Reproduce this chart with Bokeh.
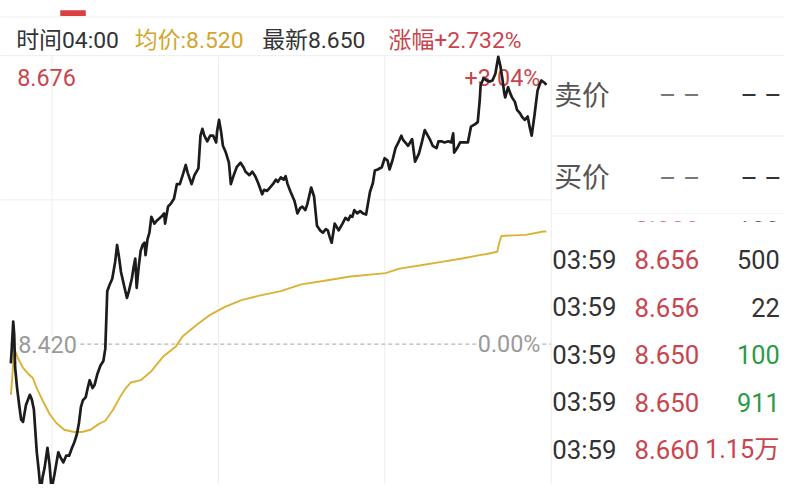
from bokeh.plotting import figure
from bokeh.models import Range1d
from bokeh.core.properties import value
from bokeh.embed import file_html
from bokeh.resources import INLINE

# ---------------- data ----------------
prev_close = 8.420
high_price = 8.676
session_minutes = 390          # 21:30 -> 04:00
grid_minutes = [30, 150, 270]  # 22:00, 00:00, 02:00
last_time = "04:00"
avg_last = 8.520
last_price = 8.650

minutes = [0.4, 1.1, 2.1, 2.8, 3.5, 4.9, 6.4, 7.8, 9.2, 11.3,
           14.1, 15.5, 17.0, 19.1, 20.5, 21.9, 23.3, 24.7, 26.8, 28.3,
           29.7, 31.8, 34.6, 36.0, 38.2, 40.3, 42.4, 44.5, 45.9, 48.0,
           49.5, 50.9, 52.3, 54.4, 55.8, 57.2, 59.3, 60.8, 62.9, 65.0,
           67.1, 68.5, 69.9, 71.4, 73.5, 75.6, 77.0, 78.4, 79.8, 82.0,
           84.1, 85.5, 87.6, 89.0, 90.1, 91.1, 92.6, 94.0, 95.4, 96.8,
           97.5, 98.9, 100.3, 101.7, 103.9, 106.0, 108.8, 110.9, 111.6, 113.7,
           115.9, 118.0, 120.1, 122.2, 124.3, 126.5, 127.9, 130.7, 132.8, 135.6,
           137.1, 138.5, 139.9, 142.0, 144.1, 146.3, 148.4, 149.1, 150.5, 151.9,
           153.3, 155.4, 157.6, 159.0, 161.1, 163.2, 166.0, 168.1, 169.6, 172.4,
           174.5, 176.6, 178.7, 181.6, 183.0, 185.1, 187.2, 189.3, 191.5, 192.9,
           195.0, 197.1, 198.5, 199.9, 202.1, 204.9, 207.0, 209.1, 210.5, 212.7,
           214.1, 216.9, 219.0, 221.1, 223.3, 225.4, 227.5, 228.9, 230.3, 231.7,
           233.9, 235.3, 236.7, 239.5, 241.6, 243.7, 245.2, 246.6, 248.0, 250.1,
           252.2, 254.3, 256.5, 257.9, 259.3, 261.4, 262.8, 264.9, 267.8, 269.9,
           272.0, 273.4, 275.5, 277.7, 279.8, 281.9, 283.3, 284.7, 286.8, 289.7,
           291.8, 294.6, 296.7, 298.8, 301.0, 302.4, 304.5, 307.3, 308.7, 310.9,
           313.0, 315.8, 317.9, 319.3, 320.0, 322.2, 324.3, 327.1, 329.9, 332.1,
           334.9, 337.0, 338.4, 339.1, 341.2, 343.4, 345.5, 347.6, 349.7, 351.8,
           353.3, 354.7, 356.1, 356.8, 358.9, 360.3, 361.7, 363.8, 365.3, 367.4,
           368.8, 370.9, 373.0, 374.4, 375.9, 378.0, 380.1, 381.5, 382.9, 385.1, 386.5]

prices = [8.403, 8.417, 8.440, 8.429, 8.399, 8.381, 8.366, 8.353, 8.351, 8.366,
          8.375, 8.371, 8.362, 8.324, 8.308, 8.289, 8.302, 8.310, 8.328, 8.313,
          8.291, 8.304, 8.324, 8.320, 8.315, 8.321, 8.321, 8.328, 8.332, 8.340,
          8.350, 8.364, 8.370, 8.373, 8.381, 8.388, 8.381, 8.384, 8.394, 8.401,
          8.405, 8.416, 8.467, 8.472, 8.478, 8.493, 8.508, 8.497, 8.484, 8.472,
          8.461, 8.467, 8.478, 8.489, 8.496, 8.470, 8.489, 8.503, 8.508, 8.510,
          8.499, 8.513, 8.519, 8.533, 8.527, 8.530, 8.533, 8.536, 8.527, 8.542,
          8.545, 8.549, 8.562, 8.562, 8.570, 8.579, 8.572, 8.562, 8.570, 8.576,
          8.605, 8.611, 8.605, 8.600, 8.605, 8.605, 8.599, 8.609, 8.619, 8.609,
          8.596, 8.590, 8.581, 8.562, 8.570, 8.577, 8.581, 8.577, 8.573, 8.570,
          8.573, 8.569, 8.563, 8.553, 8.557, 8.556, 8.559, 8.562, 8.566, 8.564,
          8.568, 8.566, 8.569, 8.562, 8.555, 8.547, 8.536, 8.541, 8.542, 8.539,
          8.544, 8.559, 8.551, 8.525, 8.521, 8.519, 8.522, 8.521, 8.515, 8.510,
          8.527, 8.524, 8.521, 8.527, 8.532, 8.530, 8.534, 8.533, 8.539, 8.536,
          8.538, 8.536, 8.535, 8.545, 8.555, 8.563, 8.574, 8.575, 8.577, 8.585,
          8.583, 8.575, 8.583, 8.594, 8.599, 8.605, 8.601, 8.599, 8.596, 8.602,
          8.582, 8.589, 8.599, 8.610, 8.605, 8.602, 8.596, 8.594, 8.600, 8.600,
          8.599, 8.600, 8.599, 8.607, 8.590, 8.594, 8.599, 8.599, 8.599, 8.613,
          8.615, 8.617, 8.636, 8.650, 8.656, 8.654, 8.653, 8.654, 8.660, 8.675,
          8.667, 8.656, 8.643, 8.639, 8.648, 8.643, 8.639, 8.635, 8.628, 8.625,
          8.622, 8.619, 8.622, 8.613, 8.605, 8.624, 8.645, 8.650, 8.654, 8.652, 8.650]

avg_minutes = [0.4, 1.4, 2.8, 3.9, 5.7, 9.2, 12.7, 16.2, 19.1, 23.3,
               28.3, 33.2, 38.9, 45.9, 51.6, 57.9, 63.6, 68.5, 74.2, 79.1,
               82.7, 86.9, 94.0, 101.7, 110.2, 119.4, 124.3, 134.2, 144.1, 154.7,
               166.7, 179.5, 195.0, 209.8, 225.4, 245.2, 270.6, 280.5, 296.0, 310.9,
               325.7, 338.4, 343.4, 351.1, 352.5, 354.0, 371.6, 384.3, 386.5]
avg_prices = [8.375, 8.390, 8.416, 8.413, 8.407, 8.399, 8.394, 8.390, 8.381, 8.370,
              8.358, 8.350, 8.344, 8.342, 8.342, 8.344, 8.349, 8.352, 8.362, 8.373,
              8.380, 8.386, 8.388, 8.396, 8.409, 8.418, 8.427, 8.437, 8.446, 8.453,
              8.459, 8.463, 8.467, 8.473, 8.476, 8.480, 8.483, 8.487, 8.490, 8.493,
              8.496, 8.499, 8.500, 8.502, 8.510, 8.516, 8.517, 8.520, 8.520]

trade_times = ["03:59", "03:59", "03:59", "03:59", "03:59", "03:59"]
trade_prices = [8.656, 8.656, 8.656, 8.650, 8.650, 8.660]
trade_vols = ["100", "500", "22", "100", "911", "1.15万"]
trade_side = [0, 0, 0, -1, -1, 1]

# ---------------- layout ----------------
W, H = 784, 484
SX, SY = W / 800, H / 500


def X(v):
    return v * SX


def Y(v):
    return v * SY


def FS(v):
    return f"{v * (SX + SY) / 2:.1f}px"


CH_LEFT, CH_RIGHT = X(10), X(562)
CH_TOP, CH_MID = Y(57), Y(355)

RED = "#c9454d"
GOLD = "#d2a62e"
GOLD_LINE = "#dab236"
DARK = "#333333"
GRAY = "#9a9a9a"
GREEN = "#2b9a45"
GRID = "#ededed"
FONT = value("Roboto, 'Noto Sans CJK SC'")

px_per_min = (CH_RIGHT - CH_LEFT) / session_minutes
span = high_price - prev_close
px_per_price = (CH_MID - CH_TOP) / span
x0 = -CH_LEFT / px_per_min
x1 = x0 + W / px_per_min
y1 = high_price + CH_TOP / px_per_price
y0 = y1 - H / px_per_price

p = figure(width=W, height=H, x_range=Range1d(x0, x1), y_range=Range1d(y0, y1),
           x_axis_type=None, y_axis_type=None, toolbar_location=None,
           output_backend="svg", min_border=0, outline_line_color=None,
           background_fill_color="white", border_fill_color="white")
p.extra_x_ranges = {"px": Range1d(0, W)}
p.extra_y_ranges = {"px": Range1d(H, 0)}


def txt(x, y, s, color, size, align="left", **kw):
    p.text(x=[X(x)], y=[Y(y)], text=[s], text_color=color, text_font=FONT,
           text_font_size=FS(size), text_align=align, text_baseline="middle",
           x_range_name="px", y_range_name="px", **kw)


def pxline(xa, ya, xb, yb, color=GRID, width=1):
    p.segment(x0=[X(xa)], y0=[Y(ya)], x1=[X(xb)], y1=[Y(yb)], line_color=color,
              line_width=width, x_range_name="px", y_range_name="px")


def pxbox(l, r, t, b, color):
    p.quad(left=[X(l)], right=[X(r)], top=[Y(t)], bottom=[Y(b)],
           fill_color=color, line_color=None, x_range_name="px", y_range_name="px")


# top strip
pxline(0, 17, 800, 17, "#eeeeee", 1)
pxbox(61, 87, 10, 16, "#d9403f")

# header
chg = (last_price - prev_close) / prev_close * 100
txt(16, 41, f"时间{last_time}", DARK, 23.5)
txt(137, 41, f"均价:{avg_last:.3f}", GOLD, 23.5)
txt(267, 41, f"最新{last_price:.3f}", DARK, 23.5)
txt(396, 41, f"涨幅{chg:+.3f}%", RED, 23.5)

# chart frame / grid
pxline(0, 57, 800, 57)
p.segment(x0=grid_minutes, y0=[high_price] * 3, x1=grid_minutes, y1=[y0] * 3,
          line_color=GRID, line_width=1)
mid_price = prev_close + span / 2
p.segment(x0=[x0], y0=[mid_price], x1=[session_minutes], y1=[mid_price],
          line_color=GRID, line_width=1)
p.segment(x0=[0], y0=[prev_close], x1=[session_minutes], y1=[prev_close],
          line_color="#b5b5b5", line_width=1.2, line_dash="4 3")

# axis-like labels
top_pct = (high_price - prev_close) / prev_close * 100
txt(17, 80, f"{high_price:.3f}", RED, 24)
txt(551, 80, f"{top_pct:+.2f}%", RED, 24, align="right")
txt(18, 355, f"{prev_close:.3f}", GRAY, 24, background_fill_color="white")
txt(551, 355, "0.00%", GRAY, 24, align="right", background_fill_color="white")

# series
p.line(avg_minutes, avg_prices, line_color=GOLD_LINE, line_width=1.9)
p.line(minutes, prices, line_color="#1c1c1c", line_width=2.7, line_join="round")

# right panel: trade list
ROW0, ROW_H = 219, 49
for i, (t, pr, v, s) in enumerate(zip(trade_times, trade_prices, trade_vols, trade_side)):
    yy = ROW0 + i * ROW_H
    vcol = GREEN if s < 0 else (RED if s > 0 else DARK)
    txt(563, yy, t, DARK, 26.5)
    txt(647, yy, f"{pr:.3f}", RED, 26.5)
    txt(795, yy, v, vcol, 26, align="right")

# bid/ask panel covering the top of the list
pxbox(562.6, 800, 57.5, 228, "white")
pxline(562, 57, 562, 500)
pxline(562, 140, 800, 140)
pxline(562, 220, 800, 220, "#f3f3f3")
txt(565, 98, "卖价", "#555555", 28.5)
txt(693, 98, "– –", "#777777", 27, align="center")
txt(797, 98, "– –", DARK, 27, align="right")
txt(565, 183, "买价", "#555555", 28.5)
txt(693, 183, "– –", "#777777", 27, align="center")
txt(797, 183, "– –", DARK, 27, align="right")

open("out.html", "w").write(file_html(p, INLINE))
